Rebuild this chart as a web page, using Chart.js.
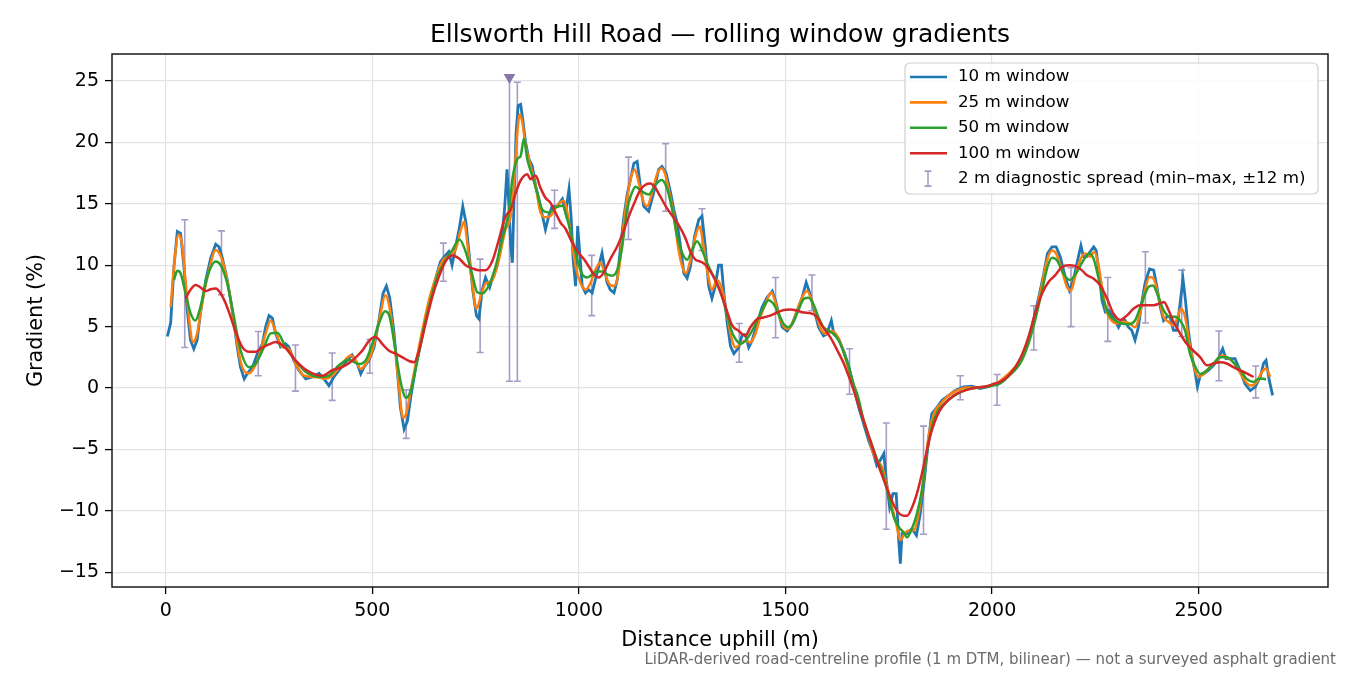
<!DOCTYPE html>
<html>
<head>
<meta charset="utf-8">
<title>Ellsworth Hill Road — rolling window gradients</title>
<script src="https://cdn.jsdelivr.net/npm/chart.js@4.4.1/dist/chart.umd.min.js"></script>
<style>
  html, body { margin: 0; padding: 0; background: #fff; }
  #wrap { width: 1350px; height: 675px; }
</style>
</head>
<body>
<div id="wrap"><canvas id="chart" width="1350" height="675"></canvas></div>
<script>
// Distance uphill (m) and gradient (%) per rolling window
const dist10 = [
  4, 12, 20, 28, 36, 44, 52, 60, 68, 76,
  84, 97, 109, 121, 129, 137, 149, 161, 173, 181,
  190, 198, 210, 222, 234, 242, 250, 258, 266, 278,
  290, 298, 310, 322, 339, 355, 371, 383, 395, 407,
  423, 440, 451, 464, 472, 480, 492, 504, 516, 526,
  534, 542, 552, 560, 568, 577, 585, 593, 605, 617,
  629, 641, 653, 665, 677, 685, 693, 701, 710, 719,
  727, 735, 743, 752, 758, 766, 774, 784, 794, 802,
  808, 814, 820, 826, 831, 835, 839, 843, 848, 853,
  859, 864, 871, 879, 887, 895, 903, 911, 919, 927,
  935, 947, 960, 968, 976, 981, 986, 992, 997, 1002,
  1008, 1016, 1024, 1032, 1040, 1048, 1056, 1060, 1068, 1076,
  1085, 1093, 1101, 1109, 1117, 1125, 1133, 1141, 1149, 1157,
  1169, 1181, 1193, 1201, 1211, 1222, 1230, 1238, 1246, 1254,
  1262, 1270, 1280, 1290, 1298, 1306, 1314, 1322, 1330, 1338,
  1345, 1351, 1359, 1367, 1375, 1387, 1395, 1403, 1411, 1419,
  1431, 1443, 1455, 1468, 1476, 1484, 1492, 1504, 1516, 1528,
  1540, 1550, 1558, 1568, 1580, 1592, 1600, 1611, 1617, 1629,
  1641, 1653, 1665, 1677, 1689, 1701, 1713, 1721, 1729, 1738,
  1744, 1752, 1760, 1768, 1774, 1778, 1782, 1794, 1806, 1817,
  1826, 1836, 1846, 1854, 1867, 1879, 1895, 1911, 1931, 1951,
  1971, 1988, 2004, 2012, 2028, 2044, 2060, 2076, 2088, 2100,
  2113, 2125, 2134, 2145, 2155, 2165, 2177, 2187, 2197, 2207,
  2215, 2221, 2229, 2237, 2246, 2252, 2258, 2266, 2274, 2282,
  2290, 2298, 2306, 2314, 2322, 2330, 2338, 2346, 2354, 2362,
  2370, 2381, 2391, 2399, 2407, 2415, 2423, 2431, 2439, 2447,
  2455, 2462, 2468, 2475, 2483, 2492, 2497, 2504, 2512, 2524,
  2536, 2548, 2558, 2566, 2576, 2588, 2600, 2612, 2625, 2637,
  2649, 2657, 2663, 2671, 2679
];
const grad10 = [
  4.2, 5.3, 9.9, 12.75, 12.6, 9.9, 6.35, 3.9, 3.2, 3.9,
  6.1, 8.8, 10.6, 11.7, 11.5, 10.6, 8.8, 6.35, 3.35, 1.7,
  0.75, 1.2, 1.7, 2.8, 3.6, 5.0, 5.9, 5.7, 4.45, 3.35,
  3.6, 3.35, 2.25, 1.45, 0.75, 0.9, 1.2, 0.75, 0.2, 0.9,
  1.6, 2.25, 2.7, 1.95, 1.15, 1.7, 2.25, 3.3, 5.5, 7.7,
  8.3, 7.4, 4.7, 1.7, -1.6, -3.35, -2.7, -0.75, 1.7, 3.6,
  5.65, 7.4, 8.9, 10.3, 10.8, 11.1, 10.0, 11.4, 12.9, 14.8,
  13.4, 10.7, 8.0, 5.9, 5.65, 8.0, 9.0, 8.2, 9.3, 9.9,
  11.2, 12.5, 14.5, 17.8, 14.6, 11.6, 10.2, 15.4, 20.8, 23.0,
  23.1, 21.9, 20.0, 18.65, 18.1, 16.5, 15.4, 14.15, 12.9, 14.0,
  14.8, 14.8, 15.4, 14.3, 16.2, 14.0, 10.5, 8.3, 13.2, 11.05,
  8.3, 7.75, 8.0, 7.75, 8.85, 9.9, 11.0, 10.2, 8.6, 8.0,
  7.75, 8.85, 11.6, 14.0, 15.8, 17.0, 18.3, 18.45, 16.4, 14.8,
  14.4, 15.9, 17.8, 18.05, 17.5, 15.9, 14.5, 13.4, 11.5, 9.35,
  8.95, 9.9, 12.35, 13.7, 14.0, 11.5, 8.3, 7.3, 8.3, 10.0,
  10.0, 7.7, 5.3, 3.4, 2.8, 3.3, 4.35, 4.35, 3.3, 3.85,
  5.2, 6.55, 7.35, 7.9, 7.1, 6.0, 4.95, 4.65, 5.2, 6.3,
  7.35, 8.6, 7.8, 6.55, 4.95, 4.25, 4.4, 5.5, 4.4, 4.0,
  3.0, 1.8, 0.1, -1.55, -2.9, -4.25, -5.35, -6.3, -5.9, -5.35,
  -7.5, -9.7, -8.6, -8.6, -12.4, -14.3, -11.85, -11.85, -11.45, -12.0,
  -10.25, -7.5, -4.25, -2.1, -1.55, -1.0, -0.6, -0.2, 0.1, 0.15,
  -0.05, 0.1, 0.3, 0.25, 0.6, 1.15, 1.85, 2.8, 3.9, 5.5,
  7.4, 9.3, 10.95, 11.5, 11.5, 10.7, 9.05, 7.95, 8.8, 10.4,
  11.6, 10.7, 10.7, 11.1, 11.5, 11.2, 9.6, 7.15, 6.2, 6.35,
  5.9, 5.5, 4.95, 5.5, 5.5, 4.95, 4.7, 3.9, 4.95, 6.9,
  8.5, 9.7, 9.6, 8.25, 6.6, 5.5, 5.8, 5.8, 4.7, 4.7,
  6.9, 8.9, 7.15, 4.7, 2.8, 1.15, 0.1, 1.05, 1.15, 1.45,
  1.85, 2.4, 3.2, 2.4, 2.4, 2.4, 1.45, 0.35, -0.2, 0.1,
  0.9, 2.0, 2.25, 0.6, -0.6
];

const dist25 = [
  12, 20, 31, 39, 47, 57, 66, 76, 88, 105,
  121, 137, 153, 169, 185, 202, 222, 242, 254, 266,
  282, 298, 314, 335, 363, 387, 403, 427, 448, 460,
  472, 484, 496, 508, 520, 531, 540, 552, 564, 574,
  582, 593, 605, 621, 637, 653, 669, 685, 701, 714,
  722, 731, 742, 752, 762, 774, 790, 806, 822, 835,
  843, 851, 857, 863, 871, 883, 895, 907, 919, 931,
  947, 964, 972, 980, 992, 1004, 1016, 1028, 1040, 1052,
  1060, 1072, 1085, 1097, 1109, 1125, 1135, 1145, 1155, 1165,
  1177, 1189, 1200, 1209, 1219, 1230, 1240, 1250, 1259, 1270,
  1282, 1292, 1302, 1313, 1322, 1334, 1347, 1359, 1367, 1379,
  1391, 1403, 1415, 1427, 1439, 1451, 1466, 1477, 1490, 1504,
  1516, 1528, 1542, 1552, 1564, 1576, 1588, 1600, 1613, 1625,
  1637, 1649, 1661, 1673, 1681, 1697, 1709, 1721, 1734, 1746,
  1758, 1768, 1778, 1788, 1798, 1810, 1822, 1834, 1846, 1859,
  1875, 1895, 1915, 1939, 1963, 1988, 2012, 2020, 2044, 2068,
  2088, 2104, 2121, 2133, 2145, 2155, 2169, 2181, 2191, 2201,
  2213, 2225, 2237, 2247, 2255, 2266, 2276, 2286, 2302, 2318,
  2334, 2346, 2358, 2370, 2381, 2391, 2403, 2415, 2427, 2439,
  2449, 2457, 2467, 2478, 2489, 2500, 2512, 2528, 2544, 2556,
  2568, 2584, 2599, 2612, 2626, 2641, 2653, 2663, 2673
];
const grad25 = [
  6.6, 9.9, 12.5, 11.8, 9.1, 5.5, 3.75, 4.45, 6.9, 9.6,
  11.25, 10.4, 8.0, 4.45, 1.7, 1.2, 2.25, 4.45, 5.5, 4.6,
  3.35, 3.2, 2.0, 1.0, 0.9, 0.75, 1.0, 2.0, 2.65, 2.25,
  1.55, 1.95, 2.65, 4.15, 6.05, 7.55, 6.85, 4.15, 0.35, -2.4,
  -2.1, -0.2, 1.95, 4.7, 7.15, 8.9, 10.3, 10.8, 11.2, 12.85,
  13.55, 11.5, 8.5, 6.45, 7.4, 8.5, 8.75, 10.4, 12.85, 14.0,
  16.75, 20.8, 22.3, 21.65, 19.75, 18.1, 16.5, 14.3, 13.9, 14.0,
  14.85, 15.25, 14.3, 12.65, 9.9, 8.55, 8.0, 8.55, 9.65, 10.2,
  9.65, 8.55, 8.3, 9.65, 13.5, 17.0, 17.8, 16.7, 15.3, 14.8,
  15.9, 17.4, 17.9, 17.4, 15.9, 14.0, 11.5, 9.9, 9.35, 10.45,
  12.35, 13.15, 11.5, 9.1, 8.0, 8.8, 8.0, 5.85, 4.4, 3.3,
  3.6, 3.85, 3.7, 4.4, 5.75, 6.8, 7.8, 6.8, 5.35, 4.8,
  5.2, 6.3, 7.5, 7.9, 7.1, 5.75, 4.65, 4.4, 4.65, 4.25,
  3.3, 1.95, 0.6, -0.6, -1.7, -3.45, -4.95, -5.9, -6.45, -8.05,
  -9.7, -11.05, -12.4, -11.85, -11.6, -11.6, -10.25, -7.5, -4.0, -2.1,
  -1.3, -0.6, -0.2, 0.05, 0.05, 0.15, 0.35, 0.6, 1.3, 2.25,
  3.9, 5.8, 8.5, 10.4, 11.2, 10.95, 9.6, 8.25, 7.95, 9.05,
  10.4, 10.95, 10.7, 11.1, 10.4, 8.25, 6.35, 5.65, 5.25, 5.4,
  5.25, 4.95, 6.05, 7.95, 9.05, 8.9, 7.4, 5.8, 5.4, 5.1,
  5.8, 6.45, 5.8, 3.6, 1.7, 0.9, 1.15, 1.7, 2.25, 2.65,
  2.5, 2.1, 1.3, 0.6, 0.2, 0.5, 1.3, 1.6, 0.9
];

const dist50 = [
  20, 28, 36, 48, 60, 72, 84, 101, 121, 133,
  149, 165, 181, 202, 218, 238, 254, 270, 290, 314,
  339, 371, 395, 419, 443, 468, 484, 500, 516, 531,
  542, 555, 568, 582, 593, 609, 625, 641, 657, 677,
  693, 711, 726, 742, 754, 766, 782, 798, 814, 831,
  839, 851, 859, 867, 875, 887, 899, 911, 927, 943,
  960, 972, 984, 996, 1008, 1020, 1032, 1044, 1056, 1068,
  1080, 1093, 1105, 1117, 1125, 1137, 1153, 1169, 1185, 1200,
  1213, 1226, 1238, 1250, 1262, 1274, 1286, 1298, 1310, 1322,
  1334, 1347, 1359, 1371, 1379, 1391, 1403, 1419, 1435, 1447,
  1459, 1472, 1484, 1496, 1508, 1520, 1532, 1544, 1556, 1568,
  1580, 1592, 1605, 1617, 1629, 1641, 1653, 1665, 1676, 1689,
  1705, 1721, 1738, 1750, 1762, 1774, 1786, 1794, 1806, 1818,
  1830, 1842, 1854, 1867, 1883, 1903, 1923, 1947, 1971, 1996,
  2020, 2044, 2068, 2088, 2104, 2121, 2134, 2145, 2157, 2173,
  2189, 2205, 2221, 2236, 2247, 2258, 2270, 2282, 2298, 2314,
  2330, 2346, 2362, 2379, 2389, 2403, 2415, 2431, 2443, 2455,
  2467, 2479, 2492, 2504, 2520, 2536, 2552, 2568, 2584, 2600,
  2616, 2633, 2645, 2657, 2663
];
const grad50 = [
  8.8, 9.55, 9.35, 7.7, 6.1, 5.5, 6.6, 9.1, 10.3, 10.0,
  8.5, 5.8, 3.1, 1.7, 2.0, 3.35, 4.45, 4.5, 3.35, 2.25,
  1.3, 0.9, 1.0, 1.85, 2.3, 1.95, 2.25, 3.6, 5.25, 6.25,
  5.8, 3.3, 0.6, -0.8, -0.2, 2.25, 4.95, 7.15, 9.05, 10.4,
  11.2, 12.1, 11.1, 9.2, 7.8, 7.7, 8.35, 9.85, 12.05, 14.5,
  17.0, 18.65, 18.9, 20.3, 18.65, 17.3, 15.9, 14.55, 14.3, 14.7,
  14.85, 13.75, 12.1, 10.5, 9.25, 9.0, 9.25, 9.5, 9.5, 9.25,
  9.15, 9.65, 11.55, 14.6, 15.6, 16.4, 16.0, 15.75, 16.55, 16.95,
  16.3, 14.5, 12.35, 11.0, 10.45, 11.25, 11.95, 11.25, 10.2, 9.35,
  8.55, 7.4, 5.9, 4.5, 4.0, 3.6, 3.85, 4.65, 5.75, 6.55,
  7.15, 6.8, 6.0, 5.2, 4.95, 5.45, 6.4, 7.25, 7.35, 6.8,
  5.75, 4.95, 4.65, 4.4, 3.85, 2.9, 1.7, 0.3, -0.75, -2.65,
  -4.25, -5.75, -7.25, -8.9, -10.5, -11.3, -11.75, -12.15, -11.45, -10.25,
  -8.35, -5.35, -3.2, -1.95, -1.3, -0.75, -0.35, -0.05, 0.05, 0.15,
  0.4, 1.1, 2.0, 3.6, 5.5, 7.95, 9.85, 10.6, 10.4, 9.3,
  8.8, 9.45, 10.4, 10.95, 10.4, 8.9, 7.15, 6.05, 5.5, 5.25,
  5.2, 5.5, 6.9, 8.25, 8.35, 7.4, 6.35, 5.8, 5.8, 5.5,
  4.7, 2.8, 1.7, 1.15, 1.45, 2.0, 2.5, 2.5, 2.1, 1.45,
  0.75, 0.5, 0.75, 0.75, 0.7
];

const dist100 = [
  48, 60, 72, 84, 97, 109, 121, 133, 145, 157,
  169, 185, 202, 218, 234, 250, 266, 282, 298, 314,
  335, 355, 379, 403, 427, 452, 476, 492, 508, 524,
  540, 556, 573, 589, 601, 613, 629, 645, 661, 677,
  693, 710, 726, 742, 758, 774, 790, 806, 822, 835,
  847, 859, 875, 883, 895, 907, 919, 931, 943, 955,
  968, 980, 996, 1012, 1024, 1036, 1048, 1060, 1076, 1093,
  1105, 1121, 1137, 1149, 1161, 1173, 1185, 1197, 1213, 1230,
  1246, 1258, 1270, 1282, 1294, 1306, 1318, 1330, 1342, 1355,
  1371, 1387, 1403, 1415, 1431, 1447, 1463, 1480, 1496, 1512,
  1528, 1544, 1560, 1576, 1592, 1609, 1625, 1641, 1657, 1673,
  1689, 1705, 1721, 1738, 1754, 1770, 1786, 1794, 1806, 1818,
  1830, 1842, 1854, 1867, 1879, 1895, 1915, 1939, 1963, 1988,
  2004, 2020, 2044, 2068, 2088, 2104, 2121, 2137, 2153, 2169,
  2185, 2201, 2217, 2229, 2246, 2262, 2278, 2294, 2310, 2326,
  2342, 2358, 2375, 2391, 2407, 2416, 2427, 2439, 2455, 2471,
  2487, 2504, 2520, 2536, 2552, 2568, 2584, 2600, 2616, 2633
];
const grad100 = [
  7.3, 8.0, 8.4, 8.2, 7.9, 8.05, 8.1, 7.7, 6.9, 5.8,
  4.6, 3.35, 2.95, 2.95, 3.3, 3.55, 3.75, 3.5, 2.95, 2.25,
  1.6, 1.2, 1.0, 1.45, 1.7, 2.25, 3.05, 3.85, 4.15, 3.6,
  3.05, 2.8, 2.5, 2.2, 2.1, 3.05, 5.25, 7.4, 9.05, 10.3,
  10.8, 10.55, 10.0, 9.75, 9.6, 9.6, 10.3, 12.05, 13.95, 14.55,
  15.9, 16.9, 17.4, 17.0, 17.3, 16.3, 15.5, 15.1, 14.3, 13.5,
  12.95, 12.1, 11.15, 10.5, 9.9, 9.25, 9.0, 9.4, 10.5, 11.55,
  12.5, 14.0, 15.3, 16.15, 16.55, 16.65, 16.3, 15.6, 14.65, 13.85,
  13.0, 12.2, 11.1, 10.45, 10.3, 10.05, 9.5, 8.8, 7.85, 6.6,
  5.1, 4.65, 4.25, 4.95, 5.6, 5.75, 5.9, 6.15, 6.35, 6.4,
  6.3, 6.15, 6.1, 5.8, 4.9, 4.1, 3.1, 2.0, 0.6, -1.0,
  -2.65, -4.25, -5.9, -7.5, -8.9, -10.0, -10.4, -10.4, -9.75, -8.6,
  -7.0, -5.1, -3.45, -2.25, -1.55, -0.95, -0.45, -0.15, 0.05, 0.15,
  0.35, 0.5, 1.15, 2.4, 4.15, 6.05, 7.7, 8.65, 9.2, 9.85,
  10.0, 9.95, 9.6, 9.2, 8.9, 8.35, 7.3, 6.05, 5.55, 5.9,
  6.45, 6.75, 6.75, 6.75, 6.9, 7.0, 6.35, 5.4, 4.45, 3.6,
  3.05, 2.5, 1.85, 2.0, 2.1, 2.0, 1.7, 1.45, 1.2, 0.9
];

// 2 m diagnostic spread: min and max gradient within ±12 m
const barDist = [46, 135, 224, 314, 403, 494, 582, 672, 761, 832, 851, 941, 1031, 1120, 1210, 1298,
  1388, 1476, 1564, 1655, 1744, 1834, 1923, 2012, 2101, 2191, 2280, 2371, 2459, 2549, 2638];
const barLow = [3.3, 7.6, 1.0, -0.25, -1.0, 1.2, -4.1, 8.7, 2.9, 0.55, 0.55, 13.0, 5.9, 12.1, 14.4, 11.2,
  2.1, 4.1, 6.3, -0.5, -11.5, -11.9, -0.95, -1.4, 3.1, 5.0, 3.8, 5.3, 4.2, 0.6, -0.8];
const barHigh = [13.7, 12.8, 4.6, 3.5, 2.85, 3.95, -0.15, 11.8, 10.5, 25.3, 24.9, 16.1, 10.8, 18.8, 19.9, 14.6,
  5.25, 9.0, 9.2, 3.2, -2.85, -3.1, 1.0, 1.1, 6.7, 9.8, 9.0, 11.1, 9.6, 4.65, 1.8];

// spread that runs off the top of the axis
const clipDist = [832];
const clipGrad = [25.3];

const xTicks = [0, 500, 1000, 1500, 2000, 2500];
const yTicks = [-15, -10, -5, 0, 5, 10, 15, 20, 25];

const TITLE = 'Ellsworth Hill Road — rolling window gradients';
const X_LABEL = 'Distance uphill (m)';
const Y_LABEL = 'Gradient (%)';
const NOTE = 'LiDAR-derived road-centreline profile (1 m DTM, bilinear) — not a surveyed asphalt gradient';
const SPREAD_LABEL = '2 m diagnostic spread (min–max, ±12 m)';

const BAR_COLOR = '#a89cc6';
const FONT = '"DejaVu Sans", "Liberation Sans", sans-serif';

function pts(xs, ys) {
  return xs.map((x, i) => ({ x: x, y: ys[i] }));
}

function fmt(v) {
  return v < 0 ? '\u2212' + Math.abs(v) : String(v);
}

function roundRect(ctx, x, y, w, h, r) {
  ctx.beginPath();
  ctx.moveTo(x + r, y);
  ctx.arcTo(x + w, y, x + w, y + h, r);
  ctx.arcTo(x + w, y + h, x, y + h, r);
  ctx.arcTo(x, y + h, x, y, r);
  ctx.arcTo(x, y, x + w, y, r);
  ctx.closePath();
}

const decor = {
  id: 'decor',
  beforeDatasetsDraw(chart) {
    const { ctx, chartArea: a, scales: { x, y } } = chart;
    ctx.save();
    ctx.beginPath();
    ctx.rect(a.left, a.top, a.right - a.left, a.bottom - a.top);
    ctx.clip();
    ctx.strokeStyle = BAR_COLOR;
    ctx.lineWidth = 1.6;
    barDist.forEach((d, i) => {
      const px = x.getPixelForValue(d);
      const lo = y.getPixelForValue(barLow[i]);
      const hi = y.getPixelForValue(barHigh[i]);
      ctx.beginPath();
      ctx.moveTo(px, lo);
      ctx.lineTo(px, hi);
      ctx.moveTo(px - 3.5, lo);
      ctx.lineTo(px + 3.5, lo);
      if (!clipDist.includes(d)) {
        ctx.moveTo(px - 3.5, hi);
        ctx.lineTo(px + 3.5, hi);
      }
      ctx.stroke();
    });
    ctx.restore();
  },
  afterDraw(chart) {
    const { ctx, chartArea: a } = chart;
    const cx = (a.left + a.right) / 2;
    ctx.save();

    // axes frame
    ctx.strokeStyle = '#1a1a1a';
    ctx.lineWidth = 1.5;
    ctx.strokeRect(a.left, a.top, a.right - a.left, a.bottom - a.top);

    // title and axis labels
    ctx.fillStyle = '#000';
    ctx.textAlign = 'center';
    ctx.textBaseline = 'alphabetic';
    ctx.font = '25px ' + FONT;
    ctx.fillText(TITLE, cx, 42);
    ctx.font = '20.8px ' + FONT;
    ctx.fillText(X_LABEL, cx, 646);
    ctx.save();
    ctx.translate(42, (a.top + a.bottom) / 2);
    ctx.rotate(-Math.PI / 2);
    ctx.fillText(Y_LABEL, 0, 0);
    ctx.restore();

    // footnote
    ctx.font = '15px ' + FONT;
    ctx.fillStyle = '#6b6b6b';
    ctx.textAlign = 'right';
    ctx.textBaseline = 'middle';
    ctx.fillText(NOTE, 1336, 660);

    // legend
    const lw = 413, lh = 131;
    const lx = a.right - 10 - lw, ly = a.top + 9;
    roundRect(ctx, lx, ly, lw, lh, 5);
    ctx.fillStyle = 'rgba(255,255,255,0.85)';
    ctx.fill();
    ctx.strokeStyle = '#d0d0d0';
    ctx.lineWidth = 1.2;
    ctx.stroke();

    ctx.font = '16.7px ' + FONT;
    ctx.textAlign = 'left';
    ctx.textBaseline = 'middle';
    const series = chart.data.datasets.filter(ds => ds.showLine);
    const rowY = i => ly + 14 + i * 25.4;
    series.forEach((ds, i) => {
      const yy = rowY(i);
      ctx.strokeStyle = ds.borderColor;
      ctx.lineWidth = 2.6;
      ctx.beginPath();
      ctx.moveTo(lx + 5, yy);
      ctx.lineTo(lx + 42, yy);
      ctx.stroke();
      ctx.fillStyle = '#000';
      ctx.fillText(ds.label, lx + 53, yy);
    });
    const ey = rowY(series.length);
    ctx.strokeStyle = BAR_COLOR;
    ctx.lineWidth = 1.6;
    ctx.beginPath();
    ctx.moveTo(lx + 23, ey - 7.5);
    ctx.lineTo(lx + 23, ey + 7.5);
    ctx.moveTo(lx + 19.5, ey - 7.5);
    ctx.lineTo(lx + 26.5, ey - 7.5);
    ctx.moveTo(lx + 19.5, ey + 7.5);
    ctx.lineTo(lx + 26.5, ey + 7.5);
    ctx.stroke();
    ctx.fillStyle = '#000';
    ctx.fillText(SPREAD_LABEL, lx + 53, ey);

    ctx.restore();
  }
};

const gridOpts = {
  color: '#e3e3e3',
  lineWidth: 1.2,
  drawTicks: true,
  tickLength: 7,
  tickColor: '#000',
  tickWidth: 1.3
};
const tickOpts = {
  color: '#000',
  font: { family: FONT, size: 19 },
  padding: 6,
  maxRotation: 0,
  autoSkip: false,
  callback: fmt
};

new Chart(document.getElementById('chart'), {
  type: 'scatter',
  data: {
    datasets: [
      { label: '10 m window', data: pts(dist10, grad10), borderColor: '#1f77b4', borderWidth: 2.8,
        showLine: true, pointRadius: 0, tension: 0, order: 4 },
      { label: '25 m window', data: pts(dist25, grad25), borderColor: '#ff7f0e', borderWidth: 2.5,
        showLine: true, pointRadius: 0, cubicInterpolationMode: 'monotone', order: 3 },
      { label: '50 m window', data: pts(dist50, grad50), borderColor: '#2ca02c', borderWidth: 2.5,
        showLine: true, pointRadius: 0, cubicInterpolationMode: 'monotone', order: 2 },
      { label: '100 m window', data: pts(dist100, grad100), borderColor: '#d62728', borderWidth: 2.5,
        showLine: true, pointRadius: 0, cubicInterpolationMode: 'monotone', order: 1 },
      { label: 'clipped', data: pts(clipDist, clipGrad), showLine: false, pointStyle: 'triangle',
        rotation: 180, pointRadius: 6.7, backgroundColor: '#8677a8', borderWidth: 0, order: 0 }
    ]
  },
  options: {
    responsive: false,
    animation: false,
    devicePixelRatio: 1,
    events: [],
    layout: { padding: { top: 54, right: 22, bottom: 0, left: 0 } },
    plugins: {
      legend: { display: false },
      title: { display: false },
      tooltip: { enabled: false }
    },
    scales: {
      x: {
        type: 'linear',
        min: -130,
        max: 2813,
        afterBuildTicks: s => { s.ticks = xTicks.map(v => ({ value: v })); },
        afterFit: s => { s.height = 88; },
        grid: gridOpts,
        border: { display: false },
        ticks: tickOpts
      },
      y: {
        type: 'linear',
        min: -16.2,
        max: 27.2,
        afterBuildTicks: s => { s.ticks = yTicks.map(v => ({ value: v })); },
        afterFit: s => { s.width = 112; },
        grid: gridOpts,
        border: { display: false },
        ticks: tickOpts
      }
    }
  },
  plugins: [decor]
});
</script>
</body>
</html>
